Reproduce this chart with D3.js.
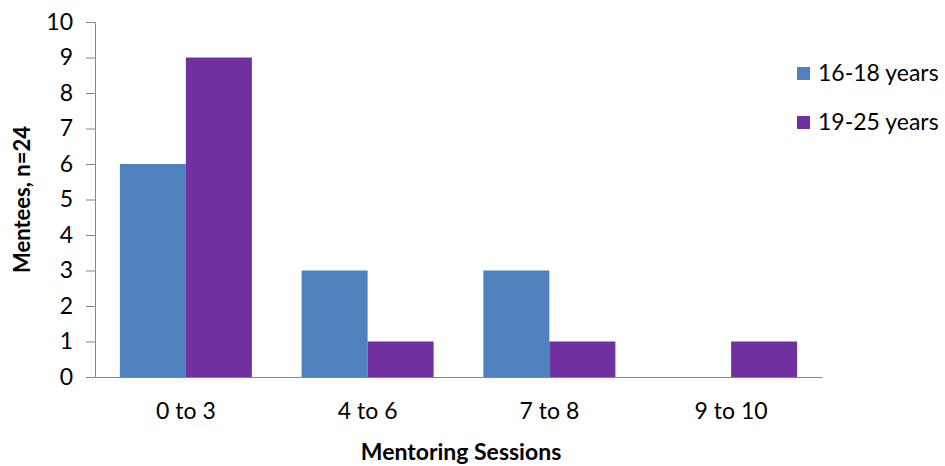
<!DOCTYPE html>
<html>
<head>
<meta charset="utf-8">
<script src="https://cdn.jsdelivr.net/npm/d3@7"></script>
<style>
  html, body { margin: 0; padding: 0; background: #fff; }
  svg { display: block; font-family: Lato, "Open Sans", sans-serif; }
</style>
</head>
<body>
<svg id="chart" width="945" height="466"></svg>
<script>
// Mentoring sessions attended, by mentee age group
const categories = ["0 to 3", "4 to 6", "7 to 8", "9 to 10"];
const seriesNames = ["16-18 years", "19-25 years"];
const teen = [6, 3, 3, 0];
const youngAdult = [9, 1, 1, 1];
const yTicks = [0, 1, 2, 3, 4, 5, 6, 7, 8, 9, 10];
const colors = ["#4F81BD", "#7030A0"];

const seriesValues = [teen, youngAdult];
const rows = categories.map((c, i) => ({
  category: c,
  values: seriesNames.map((s, j) => ({ series: s, value: seriesValues[j][i], color: colors[j] }))
}));

const FONT = "Lato, 'Open Sans', sans-serif";
const svg = d3.select("#chart");
const margin = { left: 95, right: 123, top: 22, bottom: 89 };
const W = 945, H = 466;

const x = d3.scaleBand().domain(categories)
  .range([margin.left, W - margin.right]).paddingInner(0).paddingOuter(0);
const x1 = d3.scaleBand().domain(seriesNames)
  .range([0, x.bandwidth()]).paddingOuter(0.377).paddingInner(0);
const y = d3.scaleLinear().domain([0, 10]).range([H - margin.bottom, margin.top]);

// bars
const g = svg.append("g");
g.selectAll("g.cat").data(rows).join("g")
  .attr("class", "cat")
  .attr("transform", d => `translate(${x(d.category)},0)`)
  .selectAll("rect").data(d => d.values).join("rect")
  .attr("x", d => x1(d.series))
  .attr("width", x1.bandwidth())
  .attr("y", d => y(d.value))
  .attr("height", d => y(0) - y(d.value))
  .attr("fill", d => d.color);

// y axis
const yAxis = svg.append("g")
  .attr("transform", `translate(${margin.left},0)`)
  .call(d3.axisLeft(y).tickValues(yTicks).tickSize(9).tickPadding(13).tickFormat(d3.format("d")));
yAxis.select(".domain").attr("stroke", "#868686");
yAxis.selectAll(".tick line").attr("stroke", "#868686");
yAxis.selectAll(".tick text").attr("font-size", 23).attr("fill", "#000")
  .attr("font-family", FONT);

// x axis
const xAxis = svg.append("g")
  .attr("transform", `translate(0,${y(0)})`)
  .call(d3.axisBottom(x).tickSize(0).tickPadding(26));
xAxis.select(".domain").attr("stroke", "#868686");
xAxis.selectAll(".tick text").attr("font-size", 23).attr("fill", "#000")
  .attr("font-family", FONT);

// axis titles
svg.append("text")
  .attr("x", 461)
  .attr("y", 460)
  .attr("text-anchor", "middle")
  .attr("font-size", 23).attr("font-weight", "bold")
  .text("Mentoring Sessions");

svg.append("text")
  .attr("transform", `translate(30,${(y(0) + y(10)) / 2}) rotate(-90)`)
  .attr("text-anchor", "middle")
  .attr("font-size", 22).attr("font-weight", "bold")
  .text("Mentees, n=24");

// legend
const legend = svg.append("g").attr("transform", "translate(797,67)");
const items = legend.selectAll("g").data(seriesNames).join("g")
  .attr("transform", (d, i) => `translate(0,${i * 49})`);
items.append("rect").attr("width", 13).attr("height", 13)
  .attr("fill", (d, i) => colors[i]);
items.append("text").attr("x", 21).attr("y", 14)
  .attr("font-size", 23).attr("fill", "#000")
  .text(d => d);
</script>
</body>
</html>
